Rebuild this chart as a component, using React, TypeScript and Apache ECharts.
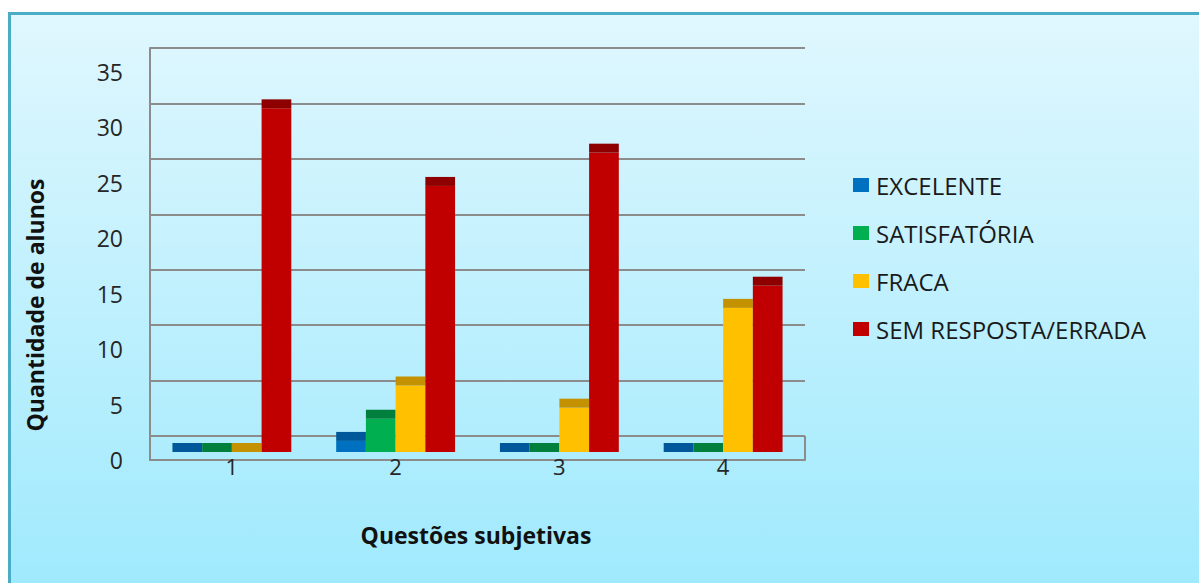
import React, { useEffect, useRef } from "react";
import * as echarts from "echarts";

// Question numbers on the horizontal axis
const categories = ["1", "2", "3", "4"];
// Students per answer rating, per question
const excelente = [0, 1, 0, 0];
const satisfatoria = [0, 3, 0, 0];
const fraca = [0, 6, 4, 13];
const semResposta = [31, 24, 27, 15];
const yTicks = { min: 0, max: 35, interval: 5 };

const seriesDefs = [
  { name: "EXCELENTE", values: excelente, front: "#0070c0", cap: "#00589a" },
  { name: "SATISFATÓRIA", values: satisfatoria, front: "#00b050", cap: "#00803c" },
  { name: "FRACA", values: fraca, front: "#ffc000", cap: "#c49200" },
  { name: "SEM RESPOSTA/ERRADA", values: semResposta, front: "#c00000", cap: "#8e0000" },
];

const FONT = "'Open Sans', 'Noto Sans', sans-serif";
const GRID_COLOR = "#8c8c8c";
const BAR_RATIO = 0.1815; // one bar's width as a share of the category band
const CAP_PX = 9; // depth of the darker top face

export default function App() {
  const ref = useRef<HTMLDivElement>(null);

  useEffect(() => {
    if (!ref.current) return;
    const chart = echarts.init(ref.current, null, { renderer: "svg" });

    const left = 150;
    const right = 1199 - 805;

    const customSeries = seriesDefs.map((s, sIdx) => ({
      type: "custom" as const,
      name: s.name,
      xAxisIndex: 2,
      yAxisIndex: 2,
      itemStyle: { color: s.front },
      data: s.values.map((v, i) => [i, v]),
      encode: { x: 0, y: 1 },
      z: 5,
      renderItem: (params: any, api: any) => {
        const ci = api.value(0);
        const v = api.value(1);
        const base = api.coord([ci, 0]);
        const top = api.coord([ci, v]);
        const band = api.size([1, 0])[0];
        const w = band * BAR_RATIO;
        const x = base[0] - 2 * w + sIdx * w;
        return {
          type: "group",
          children: [
            {
              type: "rect",
              shape: { x, y: top[1], width: w, height: base[1] - top[1] },
              style: { fill: s.front },
            },
            {
              type: "rect",
              shape: { x, y: top[1] - CAP_PX, width: w, height: CAP_PX },
              style: { fill: s.cap },
            },
          ],
        };
      },
    }));

    chart.setOption({
      animation: false,
      graphic: [
        {
          type: "rect",
          z: -10,
          shape: { x: 9.5, y: 13.5, width: 1220, height: 600 },
          style: {
            fill: new echarts.graphic.LinearGradient(0, 0, 0, 1, [
              { offset: 0, color: "#e0f7fe" },
              { offset: 1, color: "#9ce9fd" },
            ]),
            stroke: "#4bacc6",
            lineWidth: 3,
          },
        },
        {
          type: "polyline",
          z: 1,
          shape: { points: [[805, 436], [805, 460]] },
          style: { stroke: GRID_COLOR, lineWidth: 2, fill: "none" },
        },
        {
          type: "text",
          x: 35,
          y: 305,
          rotation: Math.PI / 2,
          style: {
            text: "Quantidade de alunos",
            font: `bold 23px ${FONT}`,
            fill: "#111",
            align: "center",
            verticalAlign: "middle",
          },
        },
        {
          type: "text",
          x: 476,
          y: 535,
          style: {
            text: "Questões subjetivas",
            font: `bold 23px ${FONT}`,
            fill: "#111",
            align: "center",
            verticalAlign: "middle",
          },
        },
      ],
      legend: {
        orient: "vertical",
        left: 853,
        top: 173,
        padding: 0,
        itemWidth: 16,
        itemHeight: 14,
        itemGap: 24,
        icon: "rect",
        data: seriesDefs.map((s) => s.name),
        textStyle: { fontFamily: FONT, fontSize: 24, lineHeight: 24, color: "#1a1a1a", padding: [0, 0, 0, 2] },
      },
      grid: [
        // back wall with its gridlines
        { left, right, top: 48, bottom: 583 - 436 },
        // floor front edge, tick labels
        { left, right, top: 72, bottom: 583 - 460 },
        // columns
        { left, right, top: 452 - 35 * 11.086, bottom: 583 - 452 },
      ],
      xAxis: [
        { type: "category", gridIndex: 0, data: categories, show: false },
        {
          type: "category",
          gridIndex: 1,
          data: categories,
          axisLine: { show: true, lineStyle: { color: GRID_COLOR, width: 2 } },
          axisTick: { show: false },
          axisLabel: { fontFamily: FONT, fontSize: 22, color: "#262626", margin: -5 },
        },
        { type: "category", gridIndex: 2, data: categories, show: false },
      ],
      yAxis: [
        {
          type: "value",
          gridIndex: 0,
          ...yTicks,
          axisLine: { show: true, lineStyle: { color: GRID_COLOR, width: 2 } },
          axisTick: { show: false },
          axisLabel: { show: false },
          splitLine: { show: true, lineStyle: { color: GRID_COLOR, width: 2 } },
        },
        {
          type: "value",
          gridIndex: 1,
          ...yTicks,
          axisLine: { show: true, lineStyle: { color: GRID_COLOR, width: 2 } },
          axisTick: { show: false },
          splitLine: { show: false },
          axisLabel: { fontFamily: FONT, fontSize: 23, color: "#262626", margin: 27 },
        },
        { type: "value", gridIndex: 2, ...yTicks, show: false, splitLine: { show: false } },
      ],
      series: customSeries,
    });

    return () => chart.dispose();
  }, []);

  return (
    <div
      ref={ref}
      style={{ position: "fixed", left: 0, top: 0, width: 1199, height: 583, background: "#fff" }}
    />
  );
}
